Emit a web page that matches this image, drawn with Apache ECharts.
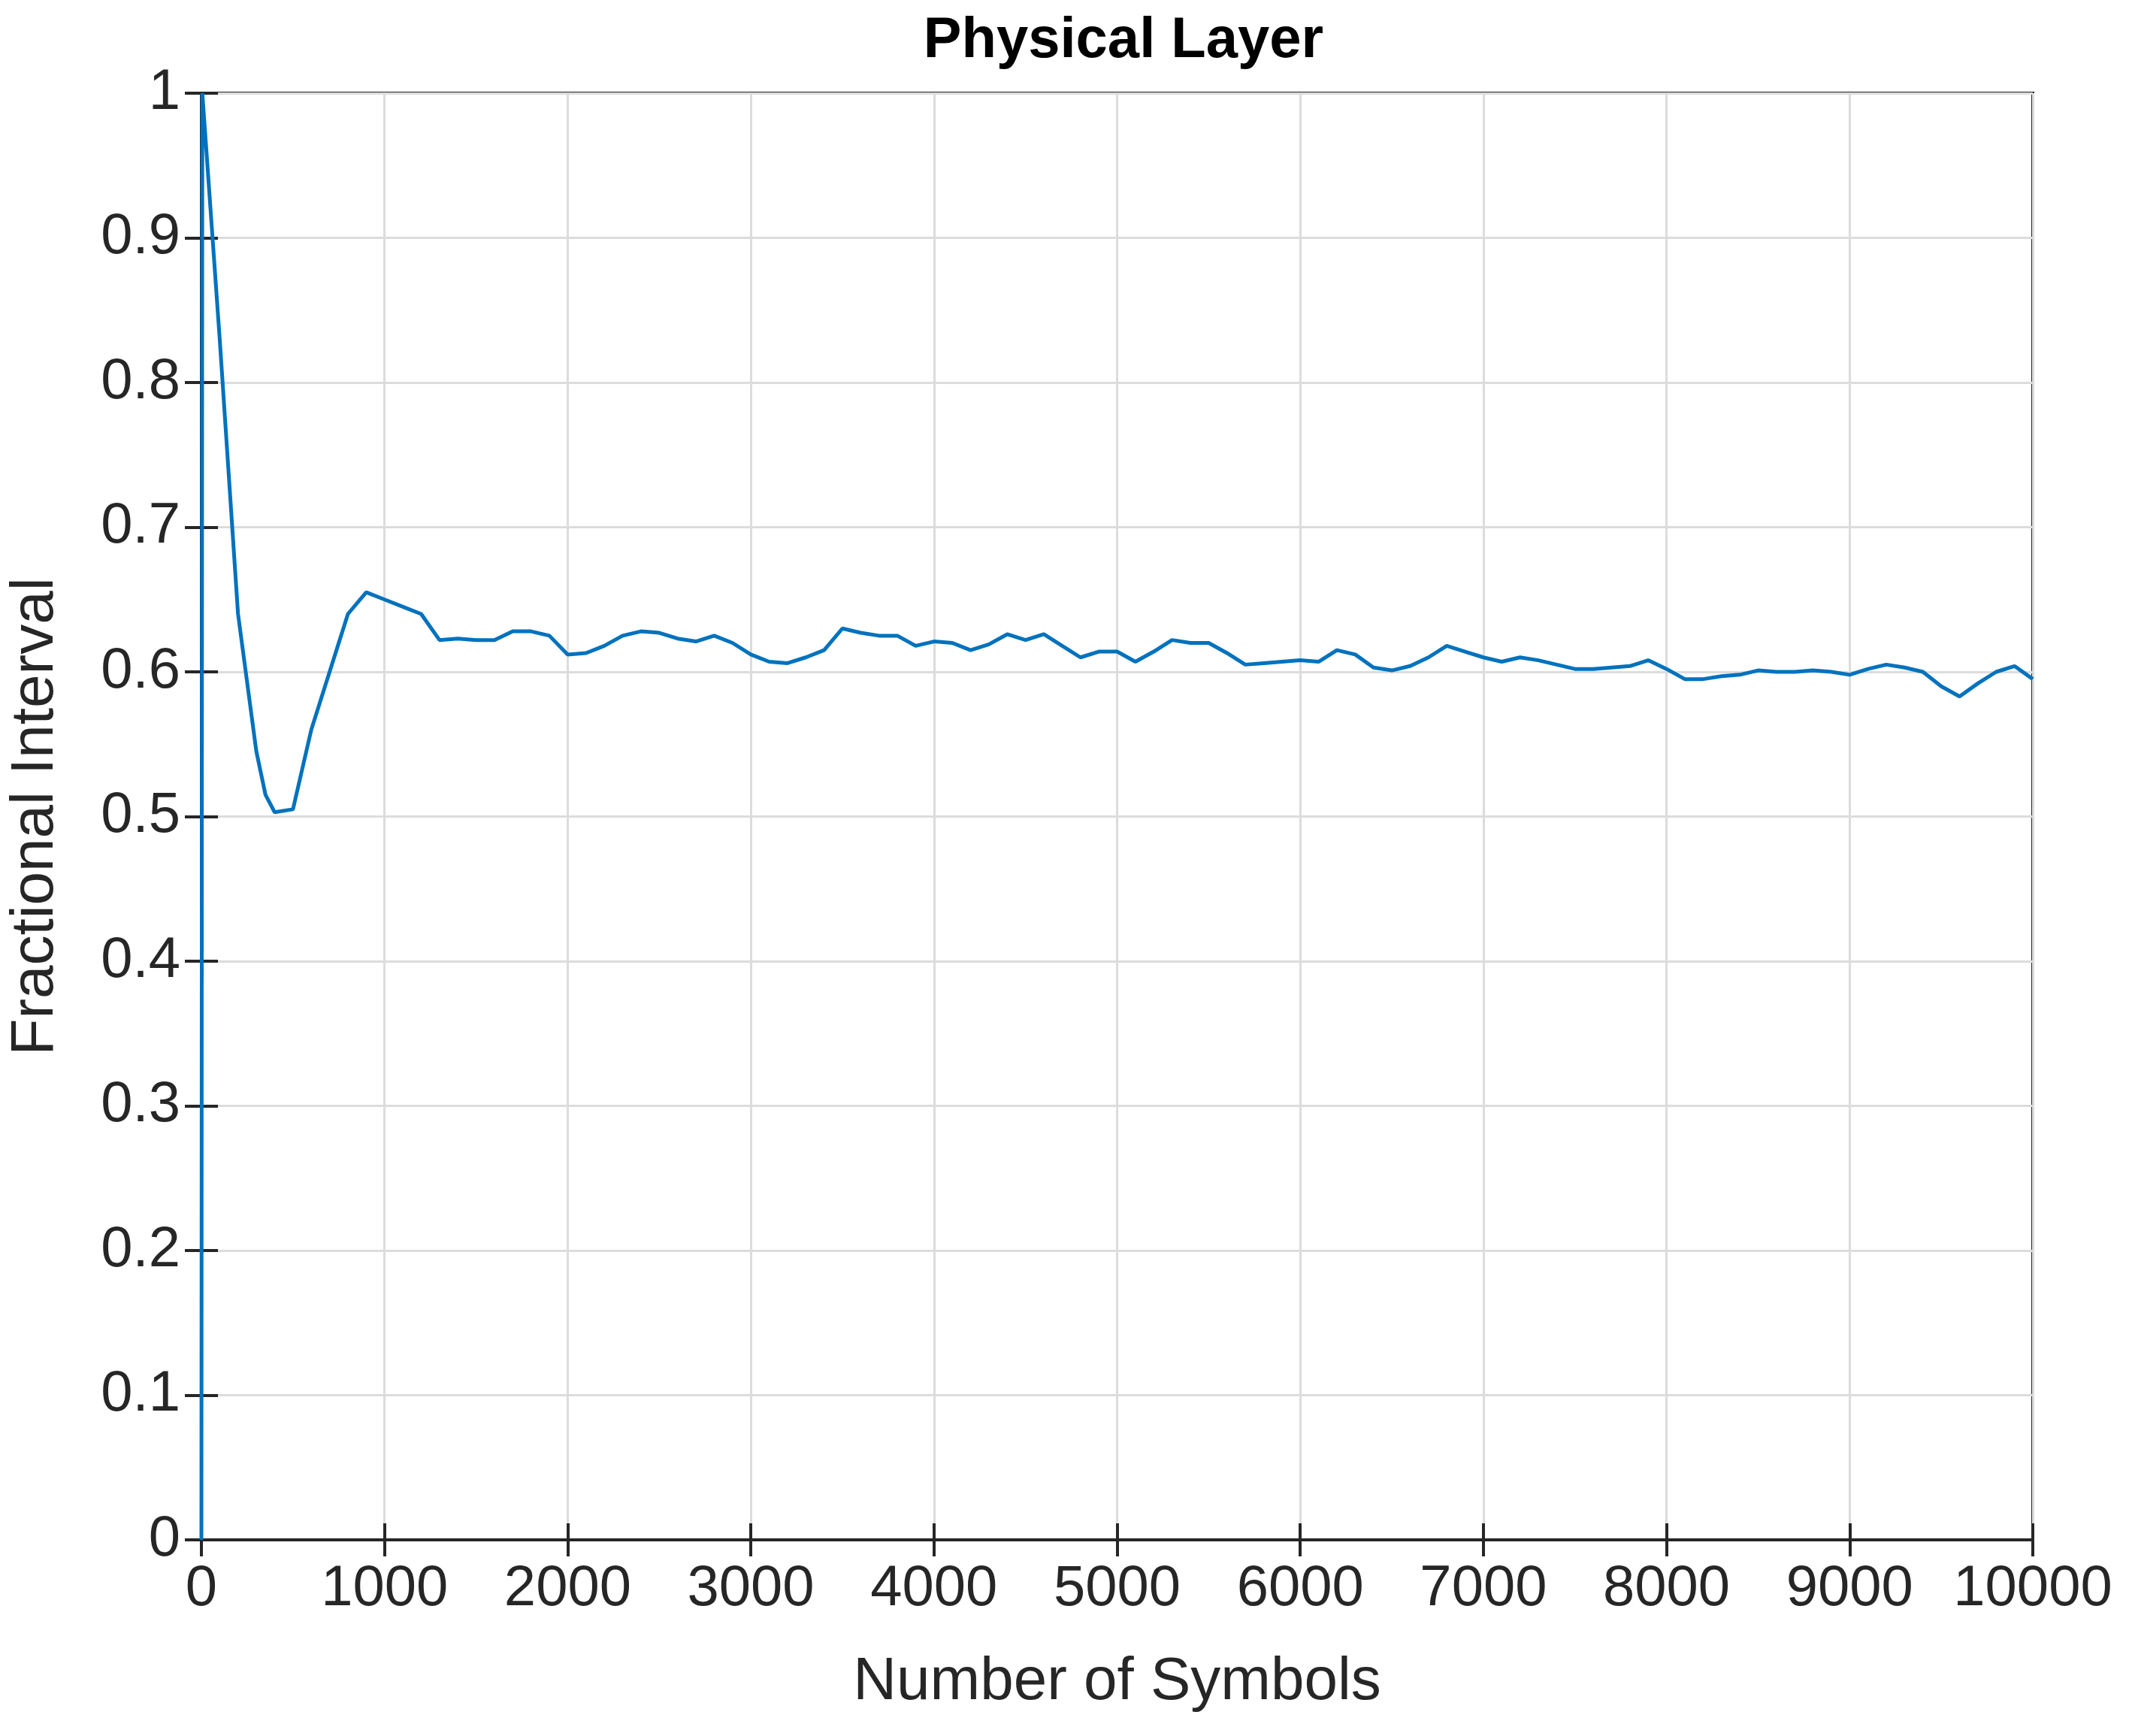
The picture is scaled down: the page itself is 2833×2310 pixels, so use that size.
<!DOCTYPE html>
<html>
<head>
<meta charset="utf-8">
<script src="https://cdn.jsdelivr.net/npm/echarts@6/dist/echarts.min.js"></script>
<style>html,body{margin:0;padding:0;background:#fff}#chart{width:2833px;height:2310px}</style>
</head>
<body>
<div id="chart"></div>
<script>
// symbol index and fractional interval
const symbols = [0, 5, 100, 200, 300, 350, 400, 500, 600, 700, 800, 900, 1000, 1100, 1200, 1300, 1400, 1500, 1600, 1700, 1800, 1900,
  2000, 2100, 2200, 2300, 2400, 2500, 2600, 2700, 2800, 2900, 3000, 3100, 3200, 3300, 3400, 3500, 3600, 3700, 3800, 3900,
  4000, 4100, 4200, 4300, 4400, 4500, 4600, 4700, 4800, 4900, 5000, 5100, 5200, 5300, 5400, 5500, 5600, 5700, 5800, 5900,
  6000, 6100, 6200, 6300, 6400, 6500, 6600, 6700, 6800, 6900, 7000, 7100, 7200, 7300, 7400, 7500, 7600, 7700, 7800, 7900,
  8000, 8100, 8200, 8300, 8400, 8500, 8600, 8700, 8800, 8900, 9000, 9100, 9200, 9300, 9400, 9500, 9600, 9700, 9800, 9900, 10000];
const fracInterval = [0, 1.0, 0.83, 0.64, 0.545, 0.515, 0.503, 0.505, 0.56, 0.6, 0.64, 0.655, 0.65, 0.645, 0.64, 0.622, 0.623, 0.622, 0.622, 0.628, 0.628, 0.625,
  0.612, 0.613, 0.618, 0.625, 0.628, 0.627, 0.623, 0.621, 0.625, 0.62, 0.612, 0.607, 0.606, 0.61, 0.615, 0.63, 0.627, 0.625, 0.625, 0.618,
  0.621, 0.62, 0.615, 0.619, 0.626, 0.622, 0.626, 0.618, 0.61, 0.614, 0.614, 0.607, 0.614, 0.622, 0.62, 0.62, 0.613, 0.605, 0.606, 0.607,
  0.608, 0.607, 0.615, 0.612, 0.603, 0.601, 0.604, 0.61, 0.618, 0.614, 0.61, 0.607, 0.61, 0.608, 0.605, 0.602, 0.602, 0.603, 0.604, 0.608,
  0.602, 0.595, 0.595, 0.597, 0.598, 0.601, 0.6, 0.6, 0.601, 0.6, 0.598, 0.602, 0.605, 0.603, 0.6, 0.59, 0.583, 0.592, 0.6, 0.604, 0.595];

const font = 'Liberation Sans';
const lab = () => ({ color: '#262626', fontSize: 76, fontFamily: font, margin: 28 });
const tick = () => ({ show: true, inside: true, length: 22, lineStyle: { color: '#262626', width: 4 } });
const split = { show: true, lineStyle: { color: '#dcdcdc', width: 3 } };
const nameStyle = { color: '#262626', fontSize: 80, fontFamily: font };

const chart = echarts.init(document.getElementById('chart'));
chart.setOption({
  animation: false,
  title: { text: 'Physical Layer', left: 1490, textAlign: 'center', top: 12,
    textStyle: { fontFamily: font, fontWeight: 'bold', fontSize: 76, color: '#000' } },
  grid: { left: 268, right: 128, top: 124, bottom: 261, show: true, borderColor: '#262626', borderWidth: 4 },
  xAxis: [
    { type: 'value', min: 0, max: 10000, interval: 1000, name: 'Number of Symbols', nameLocation: 'middle', nameGap: 150,
      nameTextStyle: nameStyle,
      axisLine: { lineStyle: { color: '#262626', width: 4 } }, axisTick: tick(),
      axisLabel: { ...lab(), formatter: v => String(v) }, splitLine: split },
    { type: 'value', position: 'top', min: 0, max: 10000, interval: 1000, axisLine: { show: false }, axisTick: tick(),
      axisLabel: { show: false }, splitLine: { show: false } }
  ],
  yAxis: [
    { type: 'value', min: 0, max: 1, interval: 0.1, name: 'Fractional Interval', nameLocation: 'middle', nameGap: 180,
      nameTextStyle: nameStyle,
      axisLine: { lineStyle: { color: '#262626', width: 4 } }, axisTick: tick(),
      axisLabel: { ...lab(), formatter: v => String(Math.round(v * 10) / 10) }, splitLine: split },
    { type: 'value', position: 'right', min: 0, max: 1, interval: 0.1, axisLine: { show: false }, axisTick: tick(),
      axisLabel: { show: false }, splitLine: { show: false } }
  ],
  series: [{
    type: 'line', showSymbol: false, clip: true,
    data: symbols.map((s, i) => [s, fracInterval[i]]),
    lineStyle: { color: '#0072BD', width: 5 }
  }]
});
</script>
</body>
</html>
